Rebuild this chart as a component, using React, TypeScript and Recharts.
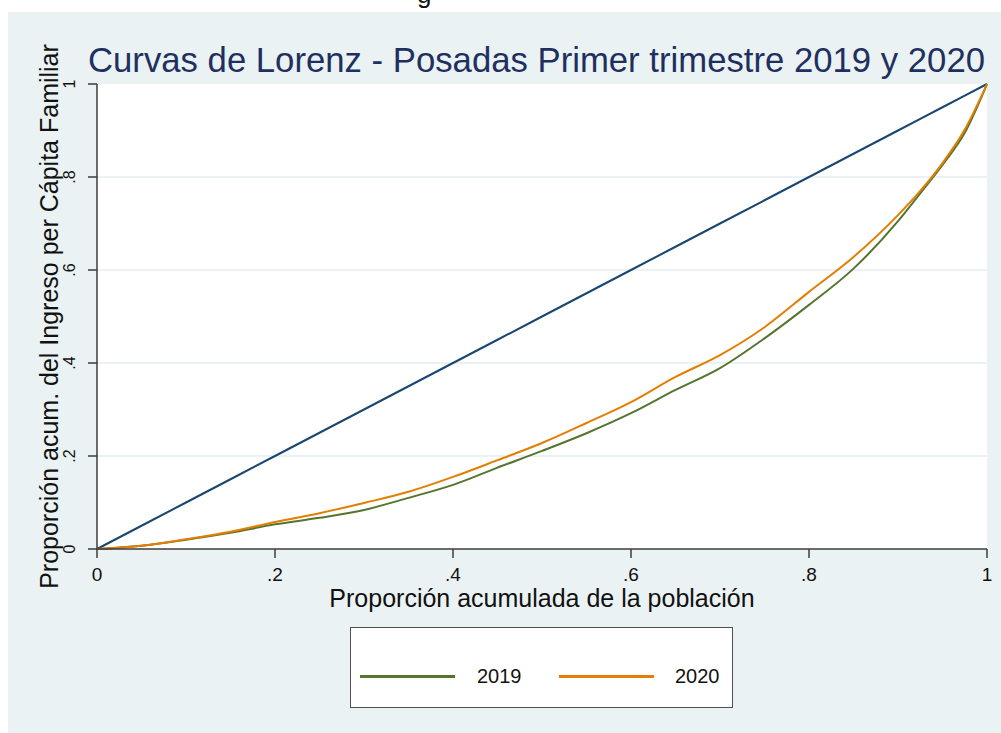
import { LineChart, Line, XAxis, YAxis, CartesianGrid, Label } from 'recharts';

// proporción acumulada de la población (eje x)
const popShare = [0, 0.05, 0.1, 0.15, 0.2, 0.25, 0.3, 0.35, 0.4, 0.45, 0.5, 0.55, 0.6, 0.65, 0.7, 0.75, 0.8, 0.85, 0.9, 0.925, 0.95, 0.975, 1];
// proporción acumulada del ingreso
const lorenz2019 = [0, 0.007, 0.02, 0.035, 0.053, 0.067, 0.084, 0.11, 0.138, 0.175, 0.211, 0.249, 0.292, 0.342, 0.389, 0.453, 0.525, 0.603, 0.705, 0.765, 0.826, 0.895, 1];
const lorenz2020 = [0, 0.007, 0.021, 0.037, 0.058, 0.077, 0.099, 0.123, 0.155, 0.191, 0.228, 0.271, 0.316, 0.37, 0.417, 0.477, 0.553, 0.628, 0.718, 0.77, 0.83, 0.902, 1];
const axisTicks = [0, 0.2, 0.4, 0.6, 0.8, 1];
const gridTicks = [0.2, 0.4, 0.6, 0.8];

const series = [
  { key: 'y2019', name: '2019', color: '#55752f' },
  { key: 'y2020', name: '2020', color: '#e37e00' },
];

const data = popShare.map((p, i) => ({
  p,
  eq: p,
  y2019: lorenz2019[i],
  y2020: lorenz2020[i],
}));

const FONT = '"Liberation Sans", Arial, Helvetica, sans-serif';
const AXIS = '#3c3c3c';

// Stata style: 0, .2, .4 ... 1
const fmt = (v: number) => (v === 0 ? '0' : v === 1 ? '1' : String(Number(v.toFixed(1))).replace(/^0/, ''));

function XTick({ x, y, payload }: any) {
  return (
    <text x={x} y={y + 23} textAnchor="middle" fontSize={19} fontFamily={FONT} fill="#111">
      {fmt(payload.value)}
    </text>
  );
}

function YTick({ x, y, payload }: any) {
  const bx = x - 13;
  return (
    <text
      x={bx}
      y={y}
      transform={`rotate(-90, ${bx}, ${y})`}
      textAnchor="middle"
      fontSize={16}
      fontFamily={FONT}
      fill="#111"
    >
      {fmt(payload.value)}
    </text>
  );
}

export default function App() {
  return (
    <div style={{ position: 'relative', width: 1001, height: 733, overflow: 'hidden', background: '#fff' }}>
      <style>{'body{margin:0;overflow:hidden}'}</style>
      <svg style={{ position: 'absolute', left: 0, top: 0 }} width={1001} height={12}>
        <text x={417} y={3} fontSize={26} fontFamily={FONT} fill="#111">g</text>
      </svg>
      <div style={{ position: 'absolute', left: 8, top: 12, width: 993, height: 721, background: '#eaf2f3' }}>
        <LineChart width={993} height={721} data={data} margin={{ top: 72, right: 14, bottom: 154, left: 0 }}>
          <CartesianGrid
            vertical={false}
            horizontalValues={gridTicks}
            stroke="#eaf2f3"
            strokeWidth={2}
            fill="#ffffff"
          />
          <XAxis
            dataKey="p"
            type="number"
            domain={[0, 1]}
            ticks={axisTicks}
            height={30}
            tickSize={9}
            tickMargin={0}
            tick={<XTick />}
            axisLine={{ stroke: AXIS, strokeWidth: 1.5 }}
            tickLine={{ stroke: AXIS, strokeWidth: 1.5 }}
          >
            <Label
              content={(props: any) => {
                const vb = props.viewBox || { x: 89, y: 537, width: 890, height: 30 };
                return (
                  <text x={vb.x + vb.width / 2} y={vb.y + 58} textAnchor="middle" fontSize={25} fontFamily={FONT} fill="#111">
                    Proporción acumulada de la población
                  </text>
                );
              }}
            />
          </XAxis>
          <YAxis
            type="number"
            domain={[0, 1]}
            ticks={axisTicks}
            width={89}
            tickSize={9}
            tickMargin={0}
            tick={<YTick />}
            axisLine={{ stroke: AXIS, strokeWidth: 1.5 }}
            tickLine={{ stroke: AXIS, strokeWidth: 1.5 }}
          >
            <Label
              content={(props: any) => {
                const vb = props.viewBox || { x: 0, y: 72, width: 89, height: 465 };
                const cx = 50;
                const cy = vb.y + vb.height / 2;
                return (
                  <text
                    x={cx}
                    y={cy}
                    transform={`rotate(-90, ${cx}, ${cy})`}
                    textAnchor="middle"
                    fontSize={25}
                    fontFamily={FONT}
                    fill="#111"
                  >
                    Proporción acum. del Ingreso per Cápita Familiar
                  </text>
                );
              }}
            />
          </YAxis>
          <Line dataKey="eq" type="linear" stroke="#1a476f" strokeWidth={2} dot={false} isAnimationActive={false} />
          {series.map((s) => (
            <Line
              key={s.key}
              dataKey={s.key}
              name={s.name}
              type="monotone"
              stroke={s.color}
              strokeWidth={2}
              dot={false}
              isAnimationActive={false}
            />
          ))}
        </LineChart>
        <svg style={{ position: 'absolute', left: 0, top: 0, pointerEvents: 'none' }} width={993} height={80}>
          <text x={80} y={60} textLength={897} lengthAdjust="spacingAndGlyphs" fontSize={35} fontFamily={FONT} fill="#1f3060">
            Curvas de Lorenz - Posadas Primer trimestre 2019 y 2020
          </text>
        </svg>
        <div
          style={{
            position: 'absolute',
            left: 342,
            top: 615,
            width: 383,
            height: 81,
            boxSizing: 'border-box',
            border: '1.5px solid #505050',
            background: '#fff',
            fontFamily: FONT,
            fontSize: 20,
            color: '#111',
          }}
        >
          {series.map((s, i) => (
            <div key={s.key}>
              <div
                style={{
                  position: 'absolute',
                  left: 9 + i * 199,
                  top: 47,
                  width: 95,
                  height: 2.5,
                  background: s.color,
                }}
              />
              <div style={{ position: 'absolute', left: 126 + i * 198, top: 36, lineHeight: '24px' }}>{s.name}</div>
            </div>
          ))}
        </div>
      </div>
    </div>
  );
}
